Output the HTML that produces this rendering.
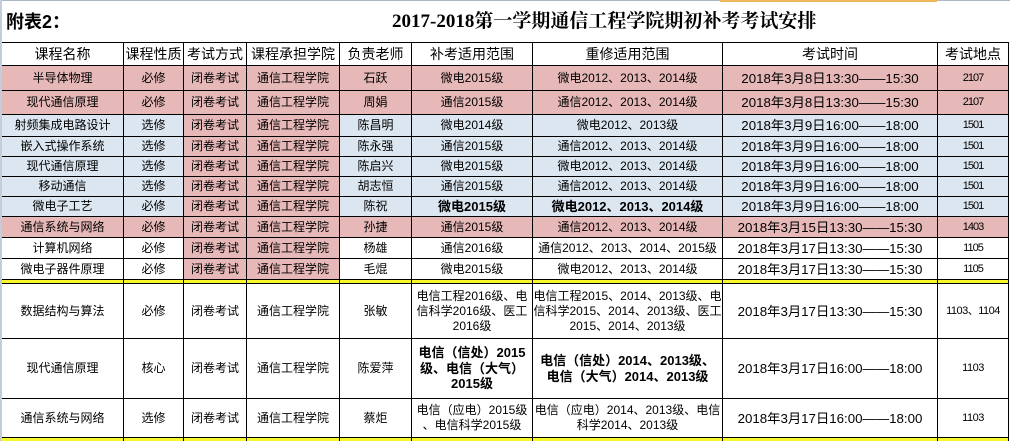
<!DOCTYPE html>
<html><head><meta charset="utf-8">
<style>
body{margin:0;width:1010px;height:441px;position:relative;overflow:hidden;background:#fff;font-family:"Liberation Sans","Noto Sans CJK SC",sans-serif;font-size:12px;color:#000}
.r{position:absolute;left:0;width:1010px}
.c{position:absolute;top:0;bottom:0;box-sizing:border-box;border:1px solid #000;display:flex;align-items:center;justify-content:center;text-align:center;white-space:nowrap;line-height:15px;overflow:visible}
.a0{left:2px;width:122px;border-left:none}
.a1{left:123px;width:61px}
.a2{left:183px;width:64px}
.a3{left:246px;width:94px}
.a4{left:339px;width:73px}
.a5{left:411px;width:122px}
.a6{left:532px;width:191px}
.a7{left:722px;width:216px;font-size:13.3px}
.a8{left:937px;width:72px;font-size:11px;letter-spacing:-1px}
.p{background:#e6b8b7}
.b{background:#dce6f1}
.y .c{background:#f7f72c;border-top:none;border-bottom:none}
.h .c{font-size:14px}
.bd{font-weight:bold;font-size:13px}
.lo .a8{font-size:11px;letter-spacing:-.5px}
</style></head><body>
<div style="position:absolute;left:0;top:0;width:1010px;height:1px;background:#a9b7c6"></div>
<div style="position:absolute;left:720px;top:0;width:217px;height:2px;background:#f0b65c"></div>
<div style="position:absolute;left:0;top:0;width:2px;height:441px;background:#c3ceda"></div>

<div style="position:absolute;left:6px;top:9px;font-size:18px;font-weight:bold;line-height:26px;font-family:'Liberation Sans','Noto Sans CJK SC',sans-serif">附表2：</div>
<div style="position:absolute;left:392px;top:9px;font-size:19px;font-weight:bold;line-height:26px;font-family:'Liberation Serif','Noto Serif CJK SC',serif;white-space:nowrap">2017-2018第一学期通信工程学院期初补考考试安排</div>

<div class="r h" style="top:42px;height:24px">
<div class="c a0">课程名称</div><div class="c a1">课程性质</div><div class="c a2">考试方式</div><div class="c a3">课程承担学院</div><div class="c a4">负责老师</div><div class="c a5">补考适用范围</div><div class="c a6">重修适用范围</div><div class="c a7" style="font-size:14px">考试时间</div><div class="c a8" style="font-size:14px;letter-spacing:0">考试地点</div>
</div>

<div class="r" style="top:65px;height:26px">
<div class="c a0 p">半导体物理</div><div class="c a1 p">必修</div><div class="c a2 p">闭卷考试</div><div class="c a3 p">通信工程学院</div><div class="c a4 p">石跃</div><div class="c a5 p">微电2015级</div><div class="c a6 p">微电2012、2013、2014级</div><div class="c a7 p">2018年3月8日13:30——15:30</div><div class="c a8 p">2107</div>
</div>
<div class="r" style="top:90px;height:25px">
<div class="c a0 p">现代通信原理</div><div class="c a1 p">必修</div><div class="c a2 p">闭卷考试</div><div class="c a3 p">通信工程学院</div><div class="c a4 p">周娟</div><div class="c a5 p">通信2015级</div><div class="c a6 p">通信2012、2013、2014级</div><div class="c a7 p">2018年3月8日13:30——15:30</div><div class="c a8 p">2107</div>
</div>
<div class="r" style="top:114px;height:23px">
<div class="c a0 b">射频集成电路设计</div><div class="c a1 b">选修</div><div class="c a2 p">闭卷考试</div><div class="c a3 p">通信工程学院</div><div class="c a4 b">陈昌明</div><div class="c a5 b">微电2014级</div><div class="c a6 b">微电2012、2013级</div><div class="c a7 b">2018年3月9日16:00——18:00</div><div class="c a8 b">1501</div>
</div>
<div class="r" style="top:136px;height:21px">
<div class="c a0 b">嵌入式操作系统</div><div class="c a1 b">选修</div><div class="c a2 p">闭卷考试</div><div class="c a3 p">通信工程学院</div><div class="c a4 b">陈永强</div><div class="c a5 b">通信2015级</div><div class="c a6 b">通信2012、2013、2014级</div><div class="c a7 b">2018年3月9日16:00——18:00</div><div class="c a8 b">1501</div>
</div>
<div class="r" style="top:156px;height:21px">
<div class="c a0 b">现代通信原理</div><div class="c a1 b">选修</div><div class="c a2 p">闭卷考试</div><div class="c a3 p">通信工程学院</div><div class="c a4 b">陈启兴</div><div class="c a5 b">微电2015级</div><div class="c a6 b">微电2012、2013、2014级</div><div class="c a7 b">2018年3月9日16:00——18:00</div><div class="c a8 b">1501</div>
</div>
<div class="r" style="top:176px;height:21px">
<div class="c a0 b">移动通信</div><div class="c a1 b">选修</div><div class="c a2 p">闭卷考试</div><div class="c a3 p">通信工程学院</div><div class="c a4 b">胡志恒</div><div class="c a5 b">通信2015级</div><div class="c a6 b">通信2012、2013、2014级</div><div class="c a7 b">2018年3月9日16:00——18:00</div><div class="c a8 b">1501</div>
</div>
<div class="r" style="top:196px;height:21px">
<div class="c a0 b">微电子工艺</div><div class="c a1 b">必修</div><div class="c a2 p">闭卷考试</div><div class="c a3 p">通信工程学院</div><div class="c a4 b">陈祝</div><div class="c a5 b bd">微电2015级</div><div class="c a6 b bd">微电2012、2013、2014级</div><div class="c a7 b">2018年3月9日16:00——18:00</div><div class="c a8 b">1501</div>
</div>
<div class="r" style="top:216px;height:22px">
<div class="c a0 p">通信系统与网络</div><div class="c a1 p">必修</div><div class="c a2 p">闭卷考试</div><div class="c a3 p">通信工程学院</div><div class="c a4 p">孙捷</div><div class="c a5 p">通信2015级</div><div class="c a6 p">通信2012、2013、2014级</div><div class="c a7 p">2018年3月15日13:30——15:30</div><div class="c a8 p">1403</div>
</div>
<div class="r" style="top:237px;height:22px">
<div class="c a0">计算机网络</div><div class="c a1">必修</div><div class="c a2 p">闭卷考试</div><div class="c a3 p">通信工程学院</div><div class="c a4">杨雄</div><div class="c a5">通信2016级</div><div class="c a6">通信2012、2013、2014、2015级</div><div class="c a7">2018年3月17日13:30——15:30</div><div class="c a8">1105</div>
</div>
<div class="r" style="top:258px;height:22px">
<div class="c a0">微电子器件原理</div><div class="c a1">必修</div><div class="c a2 p">闭卷考试</div><div class="c a3 p">通信工程学院</div><div class="c a4">毛焜</div><div class="c a5">微电2015级</div><div class="c a6">微电2012、2013、2014级</div><div class="c a7">2018年3月17日13:30——15:30</div><div class="c a8">1105</div>
</div>

<div class="r y" style="top:280px;height:3px">
<div class="c a0"></div><div class="c a1"></div><div class="c a2"></div><div class="c a3"></div><div class="c a4"></div><div class="c a5"></div><div class="c a6"></div><div class="c a7"></div><div class="c a8"></div>
</div>

<div class="r lo" style="top:283px;height:56px">
<div class="c a0">数据结构与算法</div><div class="c a1">必修</div><div class="c a2">闭卷考试</div><div class="c a3">通信工程学院</div><div class="c a4">张敏</div><div class="c a5">电信工程2016级、电<br>信科学2016级、医工<br>2016级</div><div class="c a6">电信工程2015、2014、2013级、电<br>信科学2015、2014、2013级、医工<br>2015、2014、2013级</div><div class="c a7">2018年3月17日13:30——15:30</div><div class="c a8">1103、1104</div>
</div>
<div class="r lo" style="top:338px;height:61px">
<div class="c a0">现代通信原理</div><div class="c a1">核心</div><div class="c a2">闭卷考试</div><div class="c a3">通信工程学院</div><div class="c a4">陈爱萍</div><div class="c a5 bd" style="line-height:15.5px">电信（信处）2015<br>级、电信（大气）<br>2015级</div><div class="c a6 bd" style="line-height:15.5px">电信（信处）2014、2013级、<br>电信（大气）2014、2013级</div><div class="c a7">2018年3月17日16:00——18:00</div><div class="c a8">1103</div>
</div>
<div class="r lo" style="top:398px;height:40px">
<div class="c a0">通信系统与网络</div><div class="c a1">选修</div><div class="c a2">闭卷考试</div><div class="c a3">通信工程学院</div><div class="c a4">蔡炬</div><div class="c a5">电信（应电）2015级<br>、电信科学2015级</div><div class="c a6">电信（应电）2014、2013级、电信<br>科学2014、2013级</div><div class="c a7">2018年3月17日16:00——18:00</div><div class="c a8">1103</div>
</div>

<div class="r y" style="top:438px;height:3px">
<div class="c a0"></div><div class="c a1"></div><div class="c a2"></div><div class="c a3"></div><div class="c a4"></div><div class="c a5"></div><div class="c a6"></div><div class="c a7"></div><div class="c a8"></div>
</div>
</body></html>
